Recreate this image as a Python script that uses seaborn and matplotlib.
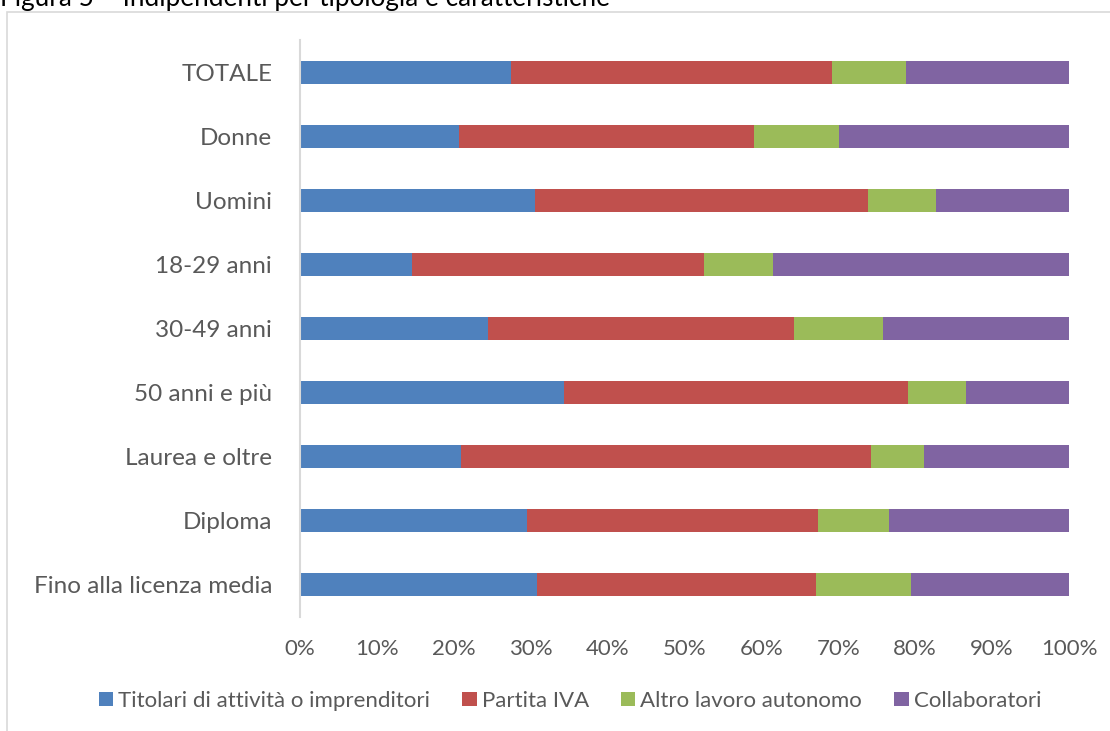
import matplotlib
matplotlib.use("Agg")
import matplotlib.pyplot as plt
from matplotlib.patches import Patch, Rectangle
import seaborn as sns
import pandas as pd
import numpy as np

# Categories, top to bottom
categories = ["TOTALE", "Donne", "Uomini", "18-29 anni", "30-49 anni",
              "50 anni e più", "Laurea e oltre", "Diploma", "Fino alla licenza media"]

# Shares (%) by type of self-employment
titolari = [27.5, 20.7, 30.5, 14.5, 24.5, 34.3, 20.9, 29.5, 30.8]
partita_iva = [41.7, 38.3, 43.3, 38.1, 39.8, 44.8, 53.4, 37.9, 36.3]
altro_autonomo = [9.6, 11.1, 8.9, 8.9, 11.5, 7.5, 6.8, 9.2, 12.4]
collaboratori = [21.2, 29.9, 17.3, 38.5, 24.2, 13.4, 18.9, 23.4, 20.5]

series_names = ["Titolari di attività o imprenditori", "Partita IVA",
                "Altro lavoro autonomo", "Collaboratori"]
series_values = [titolari, partita_iva, altro_autonomo, collaboratori]
colors = ["#4F81BD", "#C0504D", "#9BBB59", "#8064A2"]

xticks = np.arange(0, 101, 10)
xtick_labels = [f"{t}%" for t in xticks]

sns.set_theme(style="white")
plt.rcParams["font.family"] = ["Lato", "DejaVu Sans"]

W, H = 1110, 731
fig = plt.figure(figsize=(W / 100, H / 100), dpi=100)

# Plot area in pixel coordinates
left, right, top, bottom = 300, 1069, 40, 617
ax = fig.add_axes([left / W, 1 - bottom / H, (right - left) / W, (bottom - top) / H])

# Stacked bars: draw cumulative totals from the widest layer down
df = pd.DataFrame({"categoria": categories})
cum = np.cumsum(np.array(series_values), axis=0)
for i in range(len(series_names) - 1, -1, -1):
    df["valore"] = cum[i]
    sns.barplot(data=df, x="valore", y="categoria", order=categories,
                color=colors[i], saturation=1, width=0.36, ax=ax,
                edgecolor="none", linewidth=0)

ax.set_xlim(0, 100)
ax.set_ylim(len(categories) - 0.5, -0.5)
ax.set_xlabel("")
ax.set_ylabel("")
ax.set_xticks(xticks)
ax.set_xticklabels(xtick_labels)
ax.tick_params(axis="x", length=0, pad=16, labelsize=16, labelcolor="#595959")
ax.tick_params(axis="y", length=0, pad=20, labelsize=17.5, labelcolor="#595959")
for s in ["top", "right", "bottom"]:
    ax.spines[s].set_visible(False)
ax.spines["left"].set_color("#D9D9D9")
ax.spines["left"].set_linewidth(1.5)

# Legend below the plot
handles = [Patch(facecolor=c, edgecolor="none") for c in colors]
fig.legend(handles, series_names, loc="center", ncol=4,
           bbox_to_anchor=(570 / W, 1 - 701 / H), frameon=False,
           fontsize=16, labelcolor="#595959", handlelength=0.64,
           handleheight=0.6, handletextpad=0.23, columnspacing=1.45,
           borderpad=0)

# Chart frame
frame = Rectangle((7 / W, -0.01), 1.2, 1 - 12.5 / H + 0.01, transform=fig.transFigure,
                  fill=False, edgecolor="#D9D9D9", linewidth=1.2)
fig.add_artist(frame)

# Figure caption, sitting at the very top edge
fig.text(0.0, 1 - 6 / H, "Figura 5 – Indipendenti per tipologia e caratteristiche",
         fontsize=18.8, color="#000000", ha="left", va="baseline")

fig.savefig("out.png", dpi=100, facecolor="white")
